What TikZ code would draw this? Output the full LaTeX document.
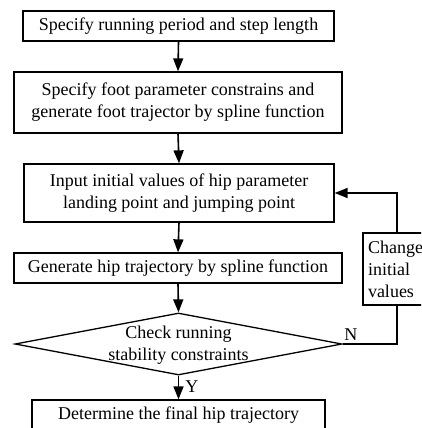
\documentclass[tikz,border=0pt]{standalone}
\usepackage{fontspec}
\setmainfont{Liberation Serif}
\usetikzlibrary{shapes.geometric,arrows.meta}
\begin{document}
\begin{tikzpicture}[x=1pt,y=-1pt,
  font=\fontsize{18}{22}\selectfont,
  box/.style={draw,line width=1.3pt,rectangle,inner sep=0pt,align=center},
  decide/.style={draw,line width=1.3pt,diamond,inner sep=0pt},
  flow/.style={line width=1.6pt,-{Triangle[length=13pt,width=10pt]}},
  link/.style={line width=1.6pt}]
\useasboundingbox (0,0) rectangle (421,428);
\clip (0,0) rectangle (421,428);

\node[box,minimum width=311pt,minimum height=30pt] (b1) at (178.5,26)
  {Specify running period and step length};
\node[box,minimum width=328pt,minimum height=61pt] (b2) at (178,102.5)
  {Specify foot parameter constrains and\\generate foot trajector by spline function};
\node[box,minimum width=310pt,minimum height=58pt] (b3) at (179,193)
  {Input initial values of hip parameter\\landing point and jumping point};
\node[box,minimum width=328pt,minimum height=30pt] (b4) at (178,268)
  {Generate hip trajectory by spline function};
% decision: outline and its text as two nodes
\node[decide,minimum width=327pt,minimum height=62pt] (d) at (178.5,344) {};
\node[align=center,inner sep=0pt] (dt) at (178.5,345) {Check running\\stability constraints};
\node[box,minimum width=293pt,minimum height=30pt] (b5) at (178.5,415)
  {Determine the final hip trajectory};
\node[box,minimum width=68pt,minimum height=72pt,text width=58pt,align=left] (ch) at (397,269)
  {Change\\initial\\values};

\draw[flow] (b1.south) -- (b2.north);
\draw[flow] (b2.south) -- (b3.north);
\draw[flow] (b3.south) -- (b4.north);
\draw[flow] (b4.south) -- (d.north);
\draw[flow] (d.south) -- node[right,pos=0.45,inner sep=6pt] (y) {Y} (b5.north);

\coordinate (turn) at (ch.south |- d.east);
\draw[link] (d.east) -- node[above,pos=0.15,inner sep=3pt] (n) {N} (turn) -- (ch.south);
\draw[flow] (ch.north) |- (b3.east);
\end{tikzpicture}
\end{document}
